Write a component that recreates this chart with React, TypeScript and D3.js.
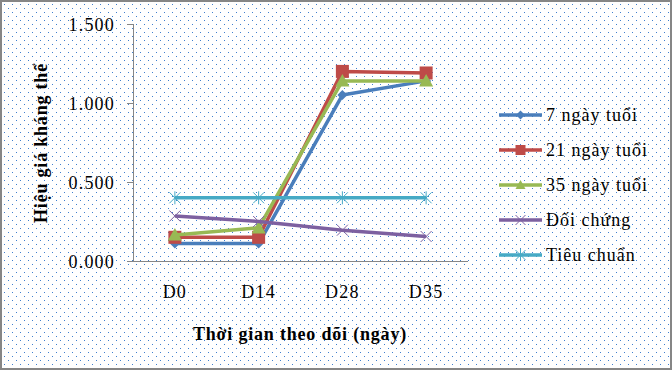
import React from 'react';
import * as d3 from 'd3';

// Chart data
const categories = ['D0', 'D14', 'D28', 'D35'];
const yTicks = [0, 0.5, 1, 1.5];
const seriesNames = ['7 ngày tuổi', '21 ngày tuổi', '35 ngày tuổi', 'Đối chứng', 'Tiêu chuẩn'];
const age7 = [0.11, 0.11, 1.05, 1.14];
const age21 = [0.15, 0.15, 1.2, 1.19];
const age35 = [0.165, 0.21, 1.14, 1.14];
const control = [0.285, 0.25, 0.195, 0.155];
const standard = [0.4, 0.4, 0.4, 0.4];

const W = 672;
const H = 370;
const FONT = '"Liberation Serif", "Times New Roman", serif';

type Marker = 'diamond' | 'square' | 'triangle' | 'x' | 'star';

const seriesList: { name: string; values: number[]; color: string; marker: Marker }[] = [
  { name: seriesNames[0], values: age7, color: '#4a7ebb', marker: 'diamond' },
  { name: seriesNames[1], values: age21, color: '#be4b48', marker: 'square' },
  { name: seriesNames[2], values: age35, color: '#98b954', marker: 'triangle' },
  { name: seriesNames[3], values: control, color: '#7d60a0', marker: 'x' },
  { name: seriesNames[4], values: standard, color: '#46aac5', marker: 'star' },
];

function MarkerShape({ type, color, size }: { type: Marker; color: string; size: number }) {
  const h = size / 2;
  if (type === 'diamond') {
    return <path d={`M0,${-h}L${h},0L0,${h}L${-h},0Z`} fill={color} />;
  }
  if (type === 'square') {
    return <rect x={-h} y={-h} width={size} height={size} fill={color} />;
  }
  if (type === 'triangle') {
    return <path d={`M0,${-h}L${h},${h * 0.8}L${-h},${h * 0.8}Z`} fill={color} />;
  }
  if (type === 'x') {
    return (
      <path d={`M${-h},${-h}L${h},${h}M${-h},${h}L${h},${-h}`} stroke={color} strokeWidth={1} fill="none" />
    );
  }
  return (
    <path
      d={`M${-h},${-h}L${h},${h}M${-h},${h}L${h},${-h}M0,${-h - 1}L0,${h + 1}`}
      stroke={color}
      strokeWidth={1}
      fill="none"
    />
  );
}

const plotSize: Record<Marker, number> = { diamond: 10, square: 13, triangle: 14, x: 11, star: 11 };
const legendSize: Record<Marker, number> = { diamond: 9, square: 10, triangle: 10, x: 10, star: 10 };

export default function App() {
  const left = 133;
  const right = 468;
  const top = 24;
  const bottom = 261;

  const x = d3.scaleBand<string>().domain(categories).range([left, right]);
  const y = d3.scaleLinear().domain([0, 1.5]).range([bottom, top]);
  const fmt = d3.format('.3f');

  const line = d3
    .line<number>()
    .x((_, i) => (x(categories[i]) as number) + x.bandwidth() / 2)
    .y((d) => y(d));

  const legendX = 499;
  const legendY0 = 115;
  const legendStep = 35;

  return (
    <div style={{ position: 'fixed', left: 0, top: 0 }}>
      <svg width={W} height={H} style={{ display: 'block', fontFamily: FONT }}>
        <defs>
          <pattern id="dots" width={8} height={8} patternUnits="userSpaceOnUse">
            <rect x={4} y={4} width={1} height={1} fill="#3f7fcf" />
            <rect x={0} y={0} width={1} height={1} fill="#3f7fcf" />
          </pattern>
        </defs>
        <rect x={0} y={0} width={W} height={H} fill="#ffffff" />
        <rect x={0} y={0} width={W} height={H} fill="url(#dots)" />
        <rect x={1} y={1} width={W - 2} height={H - 2} fill="none" stroke="#868686" strokeWidth={2} />

        {/* y axis */}
        <line x1={left + 0.5} x2={left + 0.5} y1={top} y2={bottom} stroke="#868686" strokeWidth={1} />
        {yTicks.map((t) => (
          <g key={t} transform={`translate(0,${Math.round(y(t)) + 0.5})`}>
            <line x1={left - 6} x2={left} stroke="#868686" strokeWidth={1} />
            <text
              x={115}
              dy="0.35em"
              textAnchor="end"
              fontSize={18}
              letterSpacing={1.2}
              fill="#000"
            >
              {fmt(t)}
            </text>
          </g>
        ))}

        {/* x axis */}
        <line x1={left} x2={right} y1={bottom + 0.5} y2={bottom + 0.5} stroke="#868686" strokeWidth={1} />
        {categories.map((c) => (
          <text
            key={c}
            x={(x(c) as number) + x.bandwidth() / 2}
            y={298}
            textAnchor="middle"
            fontSize={18}
            letterSpacing={1.2}
            fill="#000"
          >
            {c}
          </text>
        ))}

        {/* axis titles */}
        <text x={300} y={340} textAnchor="middle" fontSize={18} fontWeight="bold" letterSpacing={0.8} fill="#000">
          Thời gian theo dõi (ngày)
        </text>
        <text
          transform="translate(47,143) rotate(-90)"
          textAnchor="middle"
          fontSize={18}
          fontWeight="bold"
          letterSpacing={0.8}
          fill="#000"
        >
          Hiệu giá kháng thể
        </text>

        {/* series */}
        {seriesList.map((s) => (
          <g key={s.name}>
            <path d={line(s.values) as string} fill="none" stroke={s.color} strokeWidth={3.5} strokeLinejoin="round" />
            {s.values.map((v, i) => (
              <g key={i} transform={`translate(${(x(categories[i]) as number) + x.bandwidth() / 2},${y(v)})`}>
                <MarkerShape type={s.marker} color={s.color} size={plotSize[s.marker]} />
              </g>
            ))}
          </g>
        ))}

        {/* legend */}
        {seriesList.map((s, i) => {
          const ly = legendY0 + i * legendStep;
          return (
            <g key={s.name} transform={`translate(${legendX},${ly})`}>
              <line x1={0} x2={43} stroke={s.color} strokeWidth={3.5} />
              <g transform="translate(21.5,0)">
                <MarkerShape type={s.marker} color={s.color} size={legendSize[s.marker]} />
              </g>
              <text x={47} dy="0.35em" fontSize={18} letterSpacing={1} fill="#000">
                {s.name}
              </text>
            </g>
          );
        })}
      </svg>
    </div>
  );
}
